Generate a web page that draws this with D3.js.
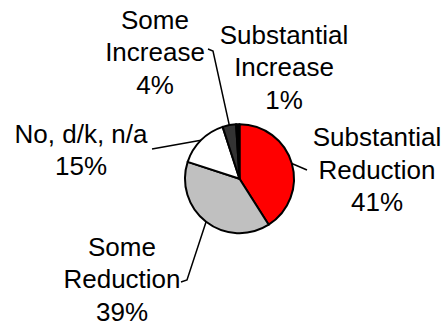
<!DOCTYPE html>
<html>
<head>
<meta charset="utf-8">
<script src="https://cdn.jsdelivr.net/npm/d3@7"></script>
<style>
  html, body { margin: 0; padding: 0; background: #fff; }
  svg { display: block; }
  text { font-family: "Liberation Sans", Arial, sans-serif; font-size: 26px; fill: #000; }
</style>
</head>
<body>
<svg id="chart" width="447" height="325"></svg>
<script>
// Response categories, clockwise from 12 o'clock
const categories = ["Substantial Reduction", "Some Reduction", "No, d/k, n/a", "Some Increase", "Substantial Increase"];
const labelLines = [
  ["Substantial", "Reduction"],
  ["Some", "Reduction"],
  ["No, d/k, n/a"],
  ["Some", "Increase"],
  ["Substantial", "Increase"]
];
const values = [41, 39, 15, 4, 1];
const colors = ["#ff0000", "#c0c0c0", "#ffffff", "#333333", "#000000"];

// Label placement: text centre x, first baseline y, and leader line points
const layout = {
  cx: 239.5, cy: 178.7, r: 54.5, lineGap: 32.5,
  labels: [
    { x: 377, y: 146, leader: [[307, 170]] },
    { x: 122, y: 255.5, leader: [[181, 282], [187, 280]] },
    { x: 81, y: 142.5, leader: [[152, 149]] },
    { x: 155, y: 28.5, leader: [[208, 49], [213, 51]] },
    { x: 284, y: 43.5, leader: null }
  ]
};

const svg = d3.select("#chart");
const g = svg.append("g").attr("transform", `translate(${layout.cx},${layout.cy})`);

const pie = d3.pie().sort(null).value(d => d);
const arcs = pie(values);
const arc = d3.arc().innerRadius(0).outerRadius(layout.r);

g.selectAll("path.slice")
  .data(arcs)
  .join("path")
  .attr("class", "slice")
  .attr("d", arc)
  .attr("fill", (d, i) => colors[i])
  .attr("stroke", "#000")
  .attr("stroke-width", 2)
  .attr("stroke-linejoin", "round");

// Leader lines from each label to the slice edge
const edge = d3.arc().innerRadius(layout.r).outerRadius(layout.r);
arcs.forEach((d, i) => {
  const L = layout.labels[i];
  if (!L.leader) return;
  const [ex, ey] = edge.centroid(d);
  const pts = L.leader.concat([[ex + layout.cx, ey + layout.cy]]);
  svg.append("path")
    .attr("d", d3.line()(pts))
    .attr("fill", "none")
    .attr("stroke", "#000")
    .attr("stroke-width", 1.5);
});

// Category labels with percentages
arcs.forEach((d, i) => {
  const L = layout.labels[i];
  const lines = labelLines[i].concat([values[i] + "%"]);
  const t = svg.append("text").attr("text-anchor", "middle");
  lines.forEach((s, k) => {
    t.append("tspan").attr("x", L.x).attr("y", L.y + k * layout.lineGap).text(s);
  });
});
</script>
</body>
</html>
